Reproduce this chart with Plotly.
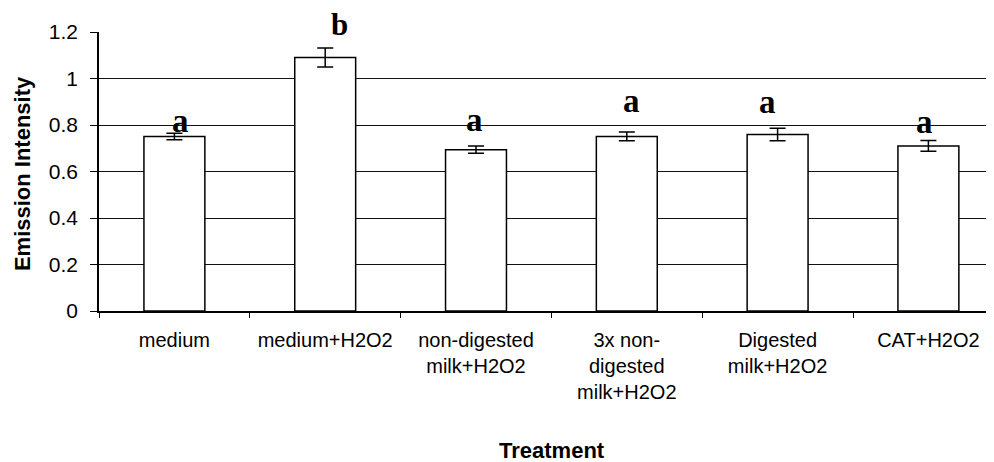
import plotly.graph_objects as go

# ---- data ----
categories = ["medium", "medium+H2O2", "non-digested<br>milk+H2O2",
              "3x non-<br>digested<br>milk+H2O2", "Digested<br>milk+H2O2", "CAT+H2O2"]
values = [0.751, 1.090, 0.694, 0.751, 0.759, 0.710]
errors = [0.014, 0.041, 0.016, 0.019, 0.027, 0.023]
letters = ["a", "b", "a", "a", "a", "a"]
y_ticks = [0, 0.2, 0.4, 0.6, 0.8, 1.0, 1.2]

# ---- label placement (pixels, style only) ----
letter_gap_px = [0.5, 11.7, 13.9, 18.7, 14.7, 7.0]
letter_dx_px = [6.5, 14, -2, 4.7, -10.5, -4]
letter_size = [33, 31, 33, 33, 33, 33]
baseline_pad = 8

fig = go.Figure()
fig.add_trace(go.Bar(
    x=categories, y=values, width=0.404,
    marker=dict(color="white", line=dict(color="black", width=1.5)),
    error_y=dict(type="data", array=errors, color="black", thickness=1.5, width=8),
    showlegend=False,
))

sans = "Liberation Sans, Arial, sans-serif"
serif = "Liberation Serif, Times New Roman, serif"

for i, (c, v, e, t) in enumerate(zip(categories, values, errors, letters)):
    fig.add_annotation(x=c, y=v + e, text=t, showarrow=False, yanchor="bottom",
                       xanchor="center",
                       yshift=letter_gap_px[i] - baseline_pad, xshift=letter_dx_px[i],
                       font=dict(family=serif, size=letter_size[i], color="black",
                                 weight="bold"))

fig.add_annotation(xref="paper", yref="paper", x=0.5067, y=-0.499, text="Treatment",
                   showarrow=False, xanchor="center", yanchor="middle",
                   font=dict(family=sans, size=22, color="black", weight="bold"))
fig.add_annotation(xref="paper", yref="paper", x=-0.0853, y=0.493, text="Emission Intensity",
                   showarrow=False, xanchor="center", yanchor="middle", textangle=-90,
                   font=dict(family=sans, size=22, color="black", weight="bold"))

# the page body adds an 8 px offset, so the figure is 8 px smaller and margins shifted
fig.update_layout(
    width=986, height=454,
    margin=dict(l=91, r=0, t=24, b=151),
    paper_bgcolor="white", plot_bgcolor="white",
    xaxis=dict(type="category", range=[-0.5, 5.435], showline=True, linecolor="black",
               linewidth=1.5, ticks="outside", tickson="boundaries", ticklen=5,
               tickcolor="black", showgrid=False,
               tickfont=dict(family=sans, size=20, color="black"), ticklabelstandoff=10),
    yaxis=dict(range=[0, 1.2], tickvals=y_ticks, showline=True, linecolor="black",
               linewidth=1.5, ticks="outside", ticklen=7, tickcolor="black",
               showgrid=True, gridcolor="#111", gridwidth=1, zeroline=False,
               tickfont=dict(family=sans, size=21, color="black"), ticklabelstandoff=8),
)

fig.write_html("out.html")
